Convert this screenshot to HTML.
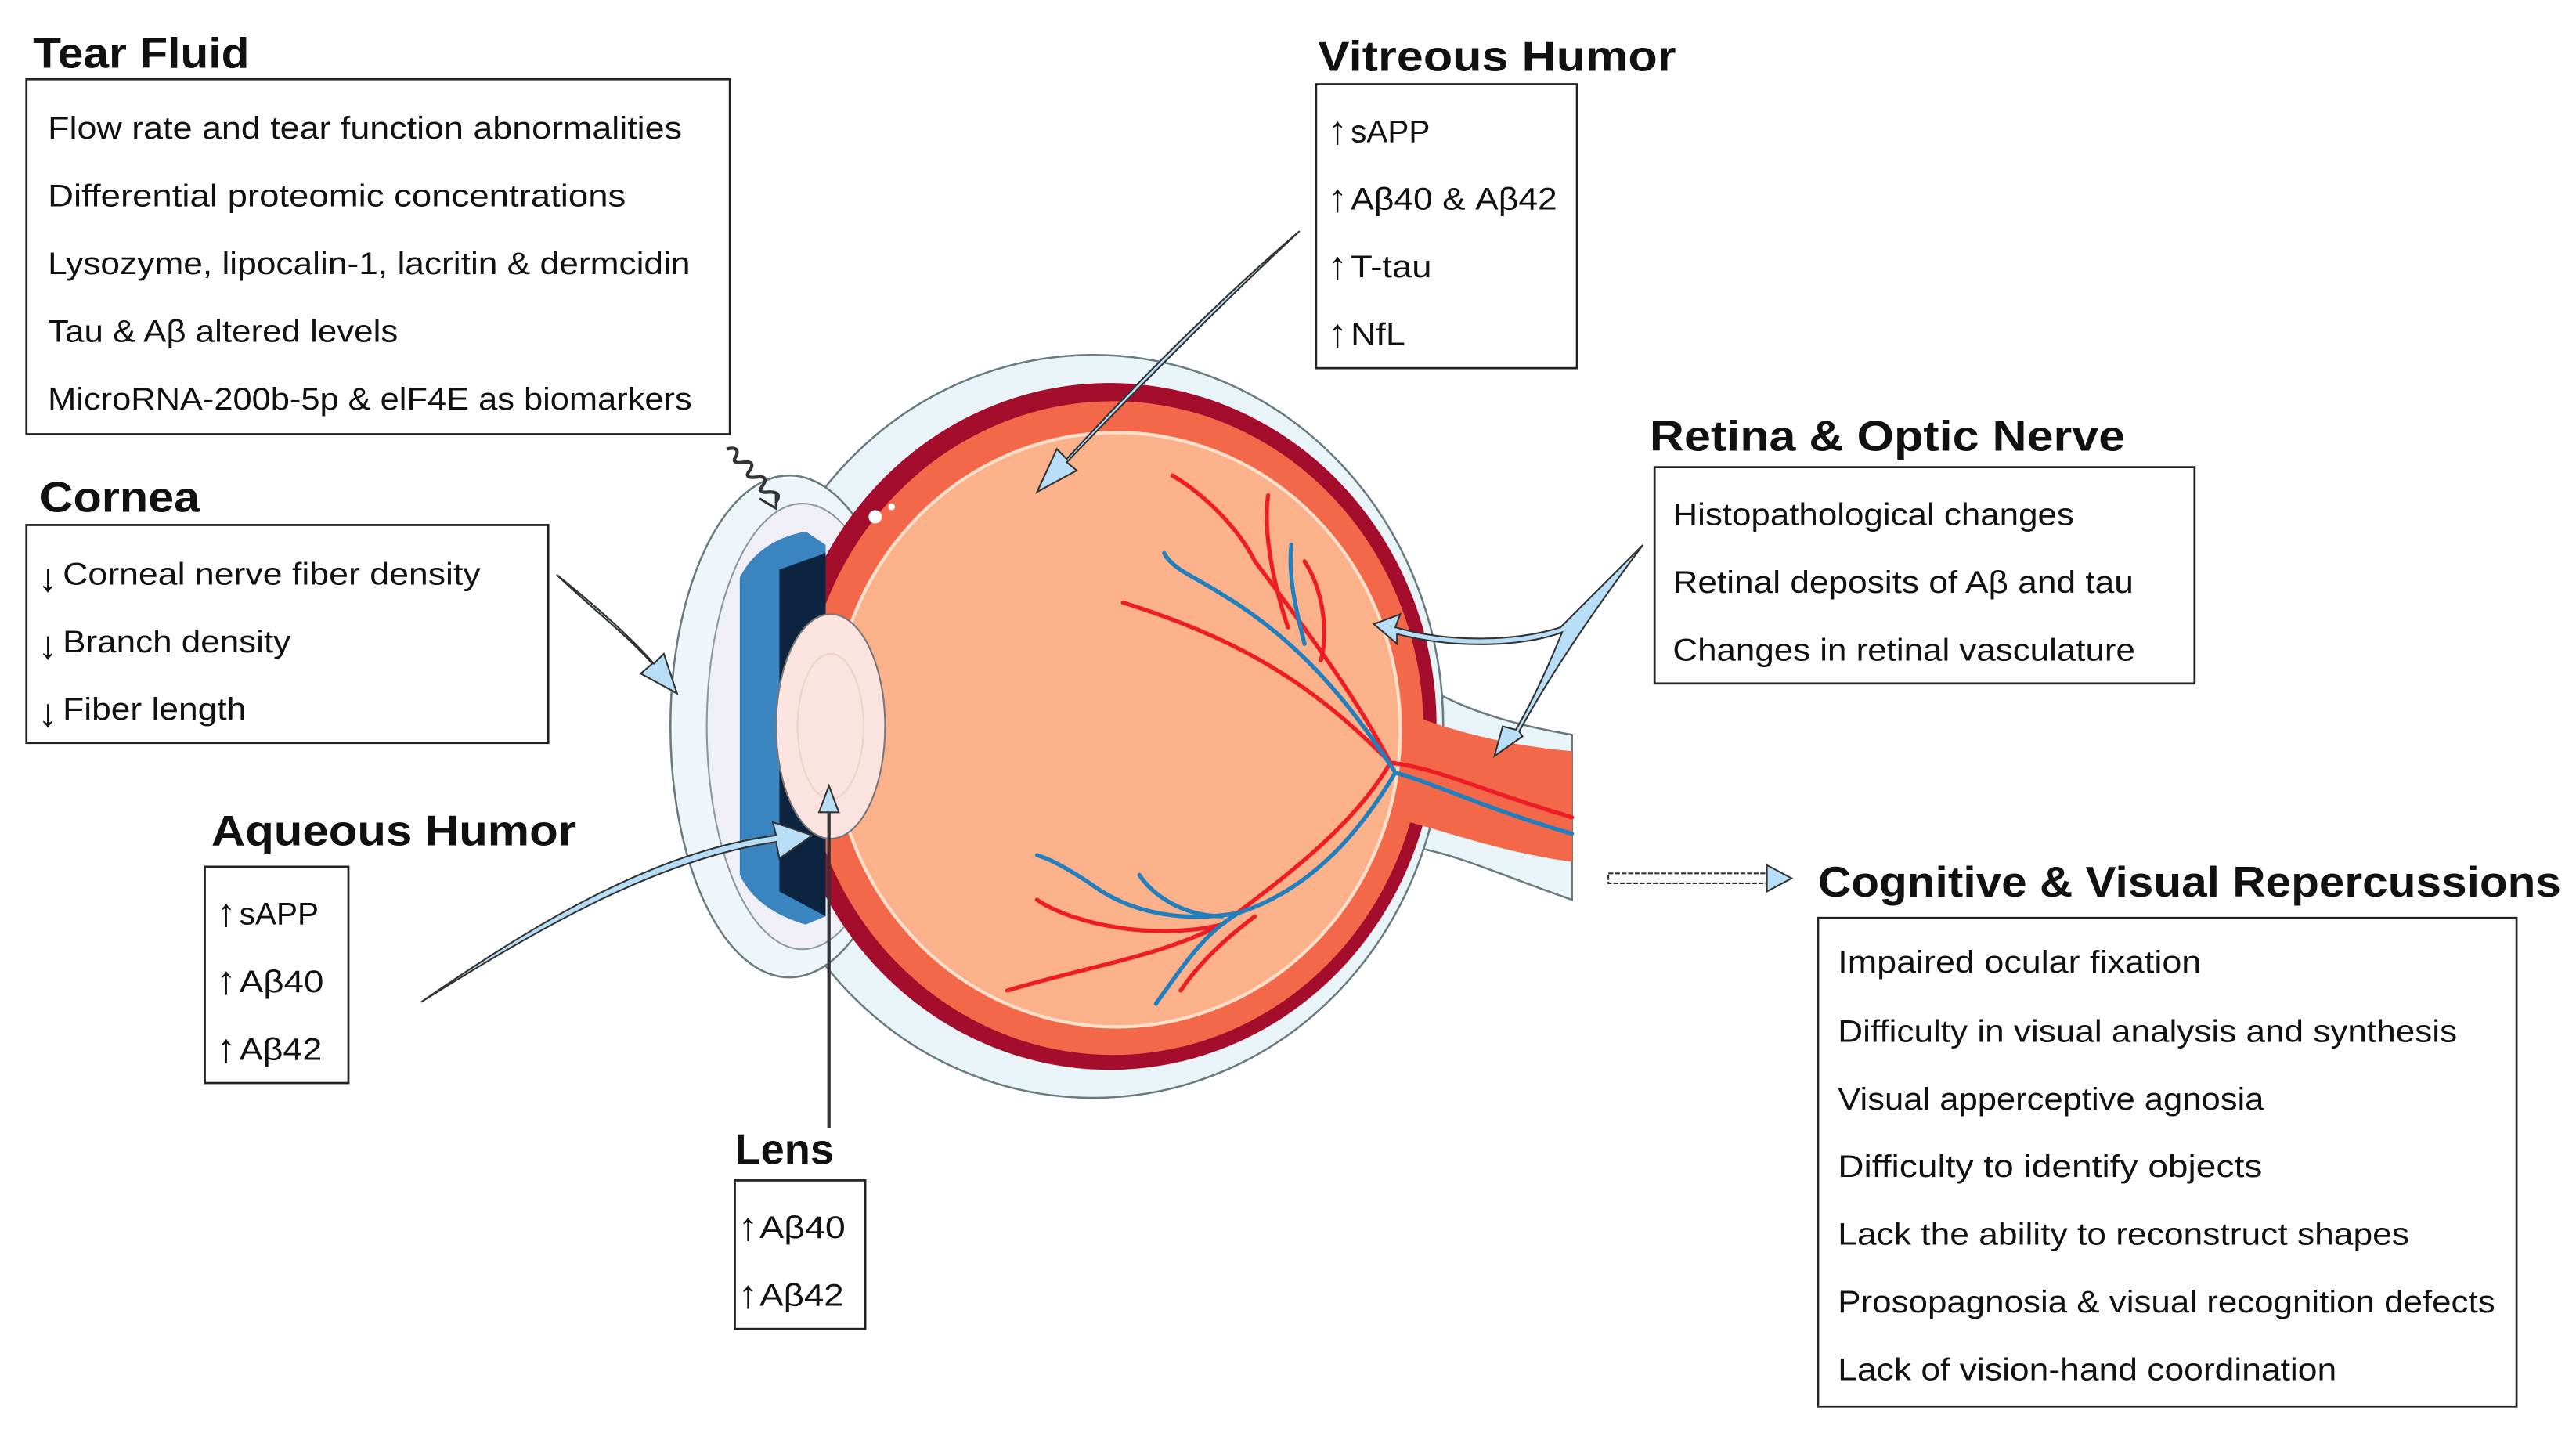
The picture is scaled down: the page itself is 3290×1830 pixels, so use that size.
<!DOCTYPE html>
<html><head><meta charset="utf-8"><style>
html,body{margin:0;padding:0;background:#fff;}
svg{display:block;}
text{font-family:"Liberation Sans",sans-serif;fill:#111;}
.t{font-size:26px;font-weight:bold;}
.b{font-size:19px;}
.ar{font-size:24px;font-weight:bold;}
</style></head><body>
<svg width="3290" height="1830" viewBox="0 0 1560 868" preserveAspectRatio="none" xmlns="http://www.w3.org/2000/svg">
<rect width="1560" height="868" fill="#fff"/>
<g>
 <path d="M800,380 C850,400 860,430 952,445 L952,545 C880,520 850,500 800,520 Z" fill="#e8f4f8" stroke="#6a7b80" stroke-width="1.2"/>
 <ellipse cx="662" cy="440" rx="212" ry="225" fill="#e8f4f8" stroke="#6a7b80" stroke-width="1.2"/>
 <ellipse cx="478" cy="440" rx="72" ry="152" fill="#eef6fa" stroke="#6a7b80" stroke-width="1.2"/>
 <ellipse cx="486" cy="440" rx="58" ry="135" fill="#f0eef6" stroke="#8a9aa0" stroke-width="1"/>
 <ellipse cx="672" cy="440" rx="198" ry="208" fill="#a50d2c"/>
 <path d="M820,420 C870,440 900,450 952,455 L952,522 C900,515 870,500 820,490 Z" fill="#f4684a"/>
 <ellipse cx="674" cy="441" rx="188" ry="198" fill="#f4684a"/>
 <ellipse cx="676" cy="442" rx="172" ry="180" fill="#fbb18a" stroke="#fde0cc" stroke-width="2"/>
 <path d="M448,350 C455,335 470,325 488,322 L500,330 L500,555 L488,560 C470,555 455,545 448,530 Z" fill="#3a85c0"/>
 <path d="M472,345 L500,335 L500,555 L472,540 Z" fill="#0d2440"/>
 <ellipse cx="503" cy="440" rx="33" ry="68" fill="#fbe3e0" stroke="#777" stroke-width="1"/>
 <ellipse cx="503" cy="440" rx="20" ry="44" fill="none" stroke="#f3cfcc" stroke-width="1"/>
 <circle cx="530" cy="313" r="4" fill="#fff"/><circle cx="540" cy="307" r="2" fill="#fff"/>
 <g fill="none" stroke-width="2.5" stroke-linecap="round">
  <path d="M952,495 C900,480 870,465 842,462 C820,420 790,380 760,340 C750,320 730,300 710,288" stroke="#ee1c25"/>
  <path d="M842,462 C800,420 760,390 680,365" stroke="#ee1c25"/>
  <path d="M780,380 C770,350 765,320 768,300" stroke="#ee1c25"/>
  <path d="M800,400 C805,380 800,355 790,340" stroke="#ee1c25"/>
  <path d="M842,462 C820,500 780,530 740,560 C700,580 660,585 610,600" stroke="#ee1c25"/>
  <path d="M740,560 C700,570 650,560 628,545" stroke="#ee1c25"/>
  <path d="M760,555 C740,570 725,585 715,600" stroke="#ee1c25"/>
  <path d="M952,505 C900,490 870,475 845,468 C820,430 790,390 740,360 C725,350 710,345 705,335" stroke="#1f7fbf"/>
  <path d="M790,390 C785,370 780,350 782,330" stroke="#1f7fbf"/>
  <path d="M845,468 C820,510 790,540 750,553 C710,560 680,550 660,535 C645,525 635,520 628,518" stroke="#1f7fbf"/>
  <path d="M750,553 C730,565 720,580 700,608" stroke="#1f7fbf"/>
  <path d="M740,555 C720,555 700,545 690,530" stroke="#1f7fbf"/>
 </g>
</g>
<g fill="#b8ddf7" stroke="#333" stroke-width="1">
 <path d="M787,140 C740,180 690,230 646,278 L640,272 L628,298 L652,285 L646,280 C692,232 742,182 787,140 Z"/>
 <path d="M337,348 C360,370 380,385 395,402 L388,408 L410,420 L402,396 L396,402 C382,386 362,368 337,348 Z"/>
 <path d="M255,607 C330,560 400,520 470,510 L472,520 L492,506 L468,498 L470,506 C400,515 330,555 255,607 Z"/>
 <path d="M995,330 C975,350 960,365 945,380 C920,388 880,390 845,380 L848,372 L832,378 L846,390 L846,384 C880,393 922,392 946,383 C935,410 925,430 918,442 L910,440 L905,458 L922,446 L920,443 C930,425 950,390 995,330 Z"/>
</g>
<line x1="502" y1="683" x2="502" y2="490" stroke="#333" stroke-width="2"/>
<polygon points="496,492 502,476 508,492" fill="#b8ddf7" stroke="#333"/>
<path d="M440,272 q8,-2 6,4 q-4,5 4,4 q8,-1 4,5 q-4,5 4,4 q8,-1 4,5 q-4,5 4,4 q8,0 4,6" fill="none" stroke="#333" stroke-width="2"/>
<path d="M460,302 L470,308 L470,298" fill="none" stroke="#333" stroke-width="1.5"/>
<rect x="974" y="529" width="96" height="6" fill="#fff" stroke="#333" stroke-width="1" stroke-dasharray="3,1"/>
<polygon points="1070,524 1085,532 1070,540" fill="#b8ddf7" stroke="#333"/>
<g fill="none" stroke="#222" stroke-width="1.3">
 <rect x="16" y="48" width="426" height="215"/>
 <rect x="16" y="318" width="316" height="132"/>
 <rect x="124" y="525" width="87" height="131"/>
 <rect x="445" y="715" width="79" height="90"/>
 <rect x="797" y="51" width="158" height="172"/>
 <rect x="1002" y="283" width="327" height="131"/>
 <rect x="1101" y="556" width="423" height="296"/>
</g>
<text class="t" x="20" y="41" textLength="131" lengthAdjust="spacingAndGlyphs">Tear Fluid</text>
<text class="t" x="24" y="310" textLength="97" lengthAdjust="spacingAndGlyphs">Cornea</text>
<text class="t" x="128" y="512" textLength="221" lengthAdjust="spacingAndGlyphs">Aqueous Humor</text>
<text class="t" x="445" y="705" textLength="60" lengthAdjust="spacingAndGlyphs">Lens</text>
<text class="t" x="798" y="43" textLength="217" lengthAdjust="spacingAndGlyphs">Vitreous Humor</text>
<text class="t" x="999" y="273" textLength="288" lengthAdjust="spacingAndGlyphs">Retina &amp; Optic Nerve</text>
<text class="t" x="1101" y="543" textLength="450" lengthAdjust="spacingAndGlyphs">Cognitive &amp; Visual Repercussions</text>
<g>
<text class="b" x="29" y="84" textLength="384" lengthAdjust="spacingAndGlyphs">Flow rate and tear function abnormalities</text>
<text class="b" x="29" y="125" textLength="350" lengthAdjust="spacingAndGlyphs">Differential proteomic concentrations</text>
<text class="b" x="29" y="166" textLength="389" lengthAdjust="spacingAndGlyphs">Lysozyme, lipocalin-1, lacritin &amp; dermcidin</text>
<text class="b" x="29" y="207" textLength="212" lengthAdjust="spacingAndGlyphs">Tau &amp; Aβ altered levels</text>
<text class="b" x="29" y="248" textLength="390" lengthAdjust="spacingAndGlyphs">MicroRNA-200b-5p &amp; elF4E as biomarkers</text>

<text class="ar" x="23" y="358" textLength="12" lengthAdjust="spacingAndGlyphs">↓</text><text class="b" x="38" y="354" textLength="253" lengthAdjust="spacingAndGlyphs">Corneal nerve fiber density</text>
<text class="ar" x="23" y="399" textLength="12" lengthAdjust="spacingAndGlyphs">↓</text><text class="b" x="38" y="395" textLength="138" lengthAdjust="spacingAndGlyphs">Branch density</text>
<text class="ar" x="23" y="440" textLength="12" lengthAdjust="spacingAndGlyphs">↓</text><text class="b" x="38" y="436" textLength="111" lengthAdjust="spacingAndGlyphs">Fiber length</text>

<text class="ar" x="131" y="561" textLength="12" lengthAdjust="spacingAndGlyphs">↑</text><text class="b" x="145" y="560" textLength="48" lengthAdjust="spacingAndGlyphs">sAPP</text>
<text class="ar" x="131" y="602" textLength="12" lengthAdjust="spacingAndGlyphs">↑</text><text class="b" x="145" y="601" textLength="51" lengthAdjust="spacingAndGlyphs">Aβ40</text>
<text class="ar" x="131" y="643" textLength="12" lengthAdjust="spacingAndGlyphs">↑</text><text class="b" x="145" y="642" textLength="50" lengthAdjust="spacingAndGlyphs">Aβ42</text>

<text class="ar" x="447" y="751" textLength="12" lengthAdjust="spacingAndGlyphs">↑</text><text class="b" x="460" y="750" textLength="52" lengthAdjust="spacingAndGlyphs">Aβ40</text>
<text class="ar" x="447" y="792" textLength="12" lengthAdjust="spacingAndGlyphs">↑</text><text class="b" x="460" y="791" textLength="51" lengthAdjust="spacingAndGlyphs">Aβ42</text>

<text class="ar" x="804" y="87" textLength="12" lengthAdjust="spacingAndGlyphs">↑</text><text class="b" x="818" y="86" textLength="48" lengthAdjust="spacingAndGlyphs">sAPP</text>
<text class="ar" x="804" y="128" textLength="12" lengthAdjust="spacingAndGlyphs">↑</text><text class="b" x="818" y="127" textLength="125" lengthAdjust="spacingAndGlyphs">Aβ40 &amp; Aβ42</text>
<text class="ar" x="804" y="169" textLength="12" lengthAdjust="spacingAndGlyphs">↑</text><text class="b" x="818" y="168" textLength="49" lengthAdjust="spacingAndGlyphs">T-tau</text>
<text class="ar" x="804" y="210" textLength="12" lengthAdjust="spacingAndGlyphs">↑</text><text class="b" x="818" y="209" textLength="33" lengthAdjust="spacingAndGlyphs">NfL</text>

<text class="b" x="1013" y="318" textLength="243" lengthAdjust="spacingAndGlyphs">Histopathological changes</text>
<text class="b" x="1013" y="359" textLength="279" lengthAdjust="spacingAndGlyphs">Retinal deposits of Aβ and tau</text>
<text class="b" x="1013" y="400" textLength="280" lengthAdjust="spacingAndGlyphs">Changes in retinal vasculature</text>

<text class="b" x="1113" y="589" textLength="220" lengthAdjust="spacingAndGlyphs">Impaired ocular fixation</text>
<text class="b" x="1113" y="631" textLength="375" lengthAdjust="spacingAndGlyphs">Difficulty in visual analysis and synthesis</text>
<text class="b" x="1113" y="672" textLength="258" lengthAdjust="spacingAndGlyphs">Visual apperceptive agnosia</text>
<text class="b" x="1113" y="713" textLength="257" lengthAdjust="spacingAndGlyphs">Difficulty to identify objects</text>
<text class="b" x="1113" y="754" textLength="346" lengthAdjust="spacingAndGlyphs">Lack the ability to reconstruct shapes</text>
<text class="b" x="1113" y="795" textLength="398" lengthAdjust="spacingAndGlyphs">Prosopagnosia &amp; visual recognition defects</text>
<text class="b" x="1113" y="836" textLength="302" lengthAdjust="spacingAndGlyphs">Lack of vision-hand coordination</text>
</g>
</svg>
</body></html>
